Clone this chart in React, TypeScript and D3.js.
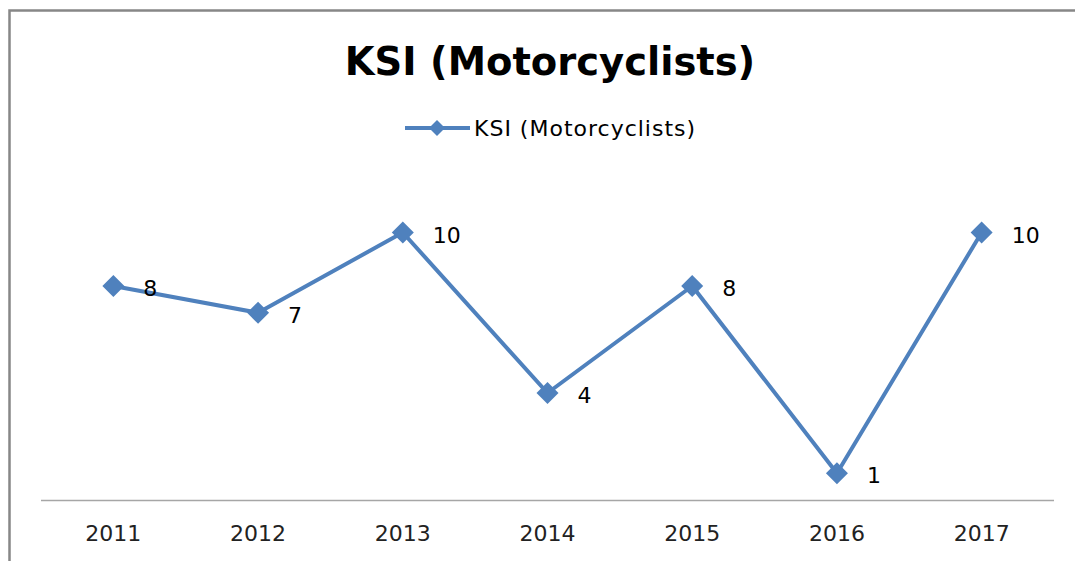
import React from 'react';
import * as d3 from 'd3';

const years = ['2011', '2012', '2013', '2014', '2015', '2016', '2017'];
const ksi = [8, 7, 10, 4, 8, 1, 10];
const seriesName = 'KSI (Motorcyclists)';
const title = 'KSI (Motorcyclists)';

const width = 1075;
const height = 561;
const plotLeft = 41;
const plotRight = 1054;
const plotBottom = 500;
const plotTop = 179;
const lineColor = '#4f81bd';
const font = "'DejaVu Sans', 'Open Sans', sans-serif";

const diamond = (x: number, y: number, r: number) =>
  `M${x},${y - r}L${x + r},${y}L${x},${y + r}L${x - r},${y}Z`;

const App: React.FC = () => {
  const xScale = d3.scaleBand<string>().domain(years).range([plotLeft, plotRight]);
  const yScale = d3.scaleLinear().domain([0, 12]).range([plotBottom, plotTop]);
  const cx = (d: string) => (xScale(d) as number) + xScale.bandwidth() / 2;

  const points = years.map((y, i) => ({year: y, value: ksi[i]}));
  const lineString = d3.line<{year: string, value: number}>()
    .x(d => cx(d.year))
    .y(d => yScale(d.value))(points) as string;

  return (
    <svg width={width} height={height} style={{position: 'absolute', left: 0, top: 0, background: 'white'}}>
      <rect x={9.5} y={10.5} width={width + 20} height={height + 20} fill="white" stroke="#878787" strokeWidth={2.5}/>
      <text x={550} y={75} textAnchor="middle" fontFamily={font} fontWeight="bold" fontSize={38.5} fill="#000">{title}</text>

      {/* legend */}
      <g>
        <line x1={405} x2={470} y1={128} y2={128} stroke={lineColor} strokeWidth={4}/>
        <path d={diamond(437, 128, 8)} fill={lineColor}/>
        <text x={474} y={136} fontFamily={font} fontSize={22} letterSpacing={1} fill="#000">{seriesName}</text>
      </g>

      {/* axis */}
      <line x1={plotLeft} x2={plotRight} y1={plotBottom + 0.5} y2={plotBottom + 0.5} stroke="#a6a6a6" strokeWidth={1.5}/>
      {years.map(y => (
        <text key={y} x={cx(y)} y={541} textAnchor="middle" fontFamily={font} fontSize={22} fill="#222">{y}</text>
      ))}

      <path d={lineString} fill="none" stroke={lineColor} strokeWidth={4} strokeLinejoin="round"/>
      {points.map(d => (
        <g key={d.year}>
          <path d={diamond(cx(d.year), yScale(d.value), 11)} fill={lineColor}/>
          <text x={cx(d.year) + 30} y={yScale(d.value) + 10} fontFamily={font} fontSize={22} fill="#000">{d.value}</text>
        </g>
      ))}
    </svg>
  );
};

export default App;
